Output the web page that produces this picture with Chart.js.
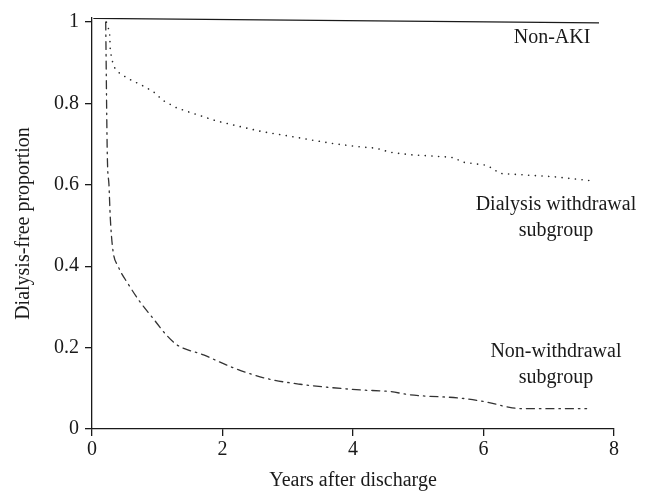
<!DOCTYPE html>
<html>
<head>
<meta charset="utf-8">
<script src="https://cdn.jsdelivr.net/npm/chart.js@4.4.0/dist/chart.umd.min.js"></script>
<style>
  html, body { margin: 0; padding: 0; background: #fff; }
  #wrap { width: 651px; height: 496px; }
</style>
</head>
<body>
<div id="wrap"><canvas id="km"></canvas></div>
<script>
// ====== DATA
const nonAkiYears = [0.02, 7.77];
const nonAkiProp = [1.009, 0.998];

const withdrawalYears = [0.22, 0.27, 0.28, 0.31, 0.35, 0.43, 0.58, 0.76, 0.94, 1.09, 1.30, 1.60, 1.91, 2.22, 2.60, 2.86, 3.16, 3.37, 3.67, 4.06, 4.36, 4.57, 4.87, 5.18, 5.48, 5.56, 5.67, 6.05, 6.15, 6.25, 7.07, 7.66];
const withdrawalProp = [1.0, 0.975, 0.93, 0.905, 0.887, 0.873, 0.859, 0.845, 0.829, 0.807, 0.789, 0.773, 0.757, 0.745, 0.731, 0.724, 0.716, 0.71, 0.702, 0.694, 0.69, 0.68, 0.674, 0.671, 0.668, 0.666, 0.656, 0.648, 0.639, 0.628, 0.62, 0.61];

const nonWithdrawalYears = [0.21, 0.235, 0.26, 0.28, 0.32, 0.40, 0.56, 0.72, 0.94, 1.14, 1.30, 1.71, 2.11, 2.42, 2.73, 3.19, 3.65, 4.11, 4.57, 4.87, 5.10, 5.64, 6.05, 6.38, 6.60, 7.58];
const nonWithdrawalProp = [1.0, 0.67, 0.6, 0.52, 0.44, 0.40, 0.355, 0.316, 0.271, 0.231, 0.207, 0.182, 0.154, 0.136, 0.122, 0.110, 0.102, 0.096, 0.092, 0.084, 0.081, 0.076, 0.066, 0.054, 0.05, 0.05];

const xTicks = [0, 2, 4, 6, 8];
const yTicks = [0, 0.2, 0.4, 0.6, 0.8, 1];

const curveLabels = [
  { lines: ['Non-AKI'] },
  { lines: ['Dialysis withdrawal', 'subgroup'] },
  { lines: ['Non-withdrawal', 'subgroup'] }
];

const zip = (xs, ys) => xs.map((x, i) => ({ x, y: ys[i] }));

const SERIF = '"Liberation Serif", "DejaVu Serif", serif';
const INK = '#1a1a1a';

// ====== curve labels drawn in data space
const labelPlugin = {
  id: 'curveLabels',
  afterDatasetsDraw(chart) {
    const { ctx, scales: { x, y } } = chart;
    const spots = [
      { x: 7.05, y: 0.962 },
      { x: 7.11, y: 0.552 },
      { x: 7.11, y: 0.19 }
    ];
    ctx.save();
    ctx.fillStyle = INK;
    ctx.font = '20px ' + SERIF;
    ctx.textAlign = 'center';
    ctx.textBaseline = 'middle';
    curveLabels.forEach((lab, i) => {
      const px = x.getPixelForValue(spots[i].x);
      const py = y.getPixelForValue(spots[i].y);
      lab.lines.forEach((t, k) => ctx.fillText(t, px, py + k * 26));
    });
    ctx.restore();
  }
};

const lineStyle = {
  pointRadius: 0,
  borderWidth: 1.3,
  fill: false,
  tension: 0,
  borderCapStyle: 'round'
};

new Chart(document.getElementById('km'), {
  type: 'line',
  data: {
    datasets: [
      { ...lineStyle, label: 'Non-AKI', data: zip(nonAkiYears, nonAkiProp), borderColor: INK, borderCapStyle: 'butt' },
      { ...lineStyle, label: 'Dialysis withdrawal subgroup', data: zip(withdrawalYears, withdrawalProp), borderColor: '#2a2a2a', borderDash: [0.1, 6.6], borderWidth: 1.6 },
      { ...lineStyle, label: 'Non-withdrawal subgroup', data: zip(nonWithdrawalYears, nonWithdrawalProp), borderColor: '#333', borderDash: [8, 5, 1.5, 5], cubicInterpolationMode: 'monotone' }
    ]
  },
  options: {
    responsive: true,
    maintainAspectRatio: false,
    animation: false,
    layout: { padding: { top: 10, right: 37, left: 0, bottom: 0 } },
    plugins: { legend: { display: false }, tooltip: { enabled: false } },
    scales: {
      x: {
        type: 'linear',
        min: 0, max: 8,
        afterFit: s => { s.height = 67; },
        afterBuildTicks: s => { s.ticks = xTicks.map(v => ({ value: v })); },
        grid: { drawOnChartArea: false, drawTicks: true, tickLength: 7, color: INK, lineWidth: 1.3 },
        border: { color: INK, width: 1.3 },
        ticks: { color: INK, font: { family: SERIF, size: 20 }, padding: 2, maxRotation: 0 },
        title: { display: true, text: 'Years after discharge', color: INK, font: { family: SERIF, size: 20 }, padding: { top: 0, bottom: 3 } }
      },
      y: {
        type: 'linear',
        min: 0, max: 1.01,
        afterFit: s => { s.width = 92; },
        afterBuildTicks: s => { s.ticks = yTicks.map(v => ({ value: v })); },
        grid: { drawOnChartArea: false, drawTicks: true, tickLength: 7, color: INK, lineWidth: 1.3 },
        border: { color: INK, width: 1.3 },
        ticks: { color: INK, font: { family: SERIF, size: 20 }, padding: 6, callback: v => String(v) },
        title: { display: true, text: 'Dialysis-free proportion', color: INK, font: { family: SERIF, size: 20 }, padding: { top: 12, bottom: 0 } }
      }
    }
  },
  plugins: [labelPlugin]
});
</script>
</body>
</html>
